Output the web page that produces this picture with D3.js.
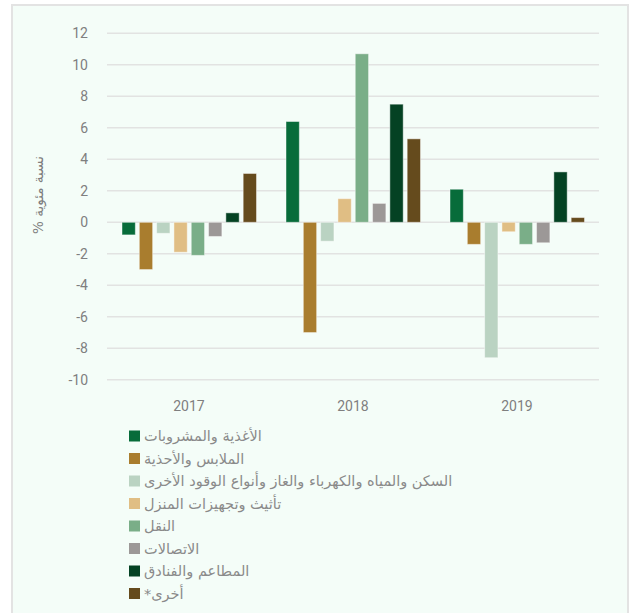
<!DOCTYPE html>
<html>
<head>
<meta charset="utf-8">
<script src="https://cdn.jsdelivr.net/npm/d3@7"></script>
<style>
  body { margin: 0; background: #fff; }
  svg { display: block; }
</style>
</head>
<body>
<svg id="chart" width="630" height="613"></svg>
<script>
const years = ["2017", "2018", "2019"];
const series = [
  "الأغذية والمشروبات",
  "الملابس والأحذية",
  "السكن والمياه والكهرباء والغاز وأنواع الوقود الأخرى",
  "تأثيث وتجهيزات المنزل",
  "النقل",
  "الاتصالات",
  "المطاعم والفنادق",
  "أخرى*"
];
const colors = ["#076c3a", "#a97d2e", "#bad3c2", "#e0be84", "#7aae88", "#9c9897", "#044223", "#654b1d"];
// values per series, one per year
const food = [-0.8, 6.4, 2.1];
const clothing = [-3.0, -7.0, -1.4];
const housing = [-0.7, -1.2, -8.6];
const furnishing = [-1.9, 1.5, -0.6];
const transport = [-2.1, 10.7, -1.4];
const communication = [-0.9, 1.2, -1.3];
const restaurants = [0.6, 7.5, 3.2];
const other = [3.1, 5.3, 0.3];
const yTicks = [12, 10, 8, 6, 4, 2, 0, -2, -4, -6, -8, -10];

const values = [food, clothing, housing, furnishing, transport, communication, restaurants, other];

const svg = d3.select("#chart");

// panel background
svg.append("rect")
  .attr("x", 12).attr("y", 5)
  .attr("width", 616).attr("height", 620)
  .attr("fill", "#f4fdf8")
  .attr("stroke", "#e3e3e3")
  .attr("stroke-width", 2);

const y = d3.scaleLinear().domain([-10, 12]).range([379.8, 33.3]);
const x0 = d3.scaleBand().domain(years).range([107, 599]);
const x1 = d3.scaleBand().domain(d3.range(series.length))
  .range([15, 149.5]).paddingInner(0.23);

// gridlines
svg.append("g")
  .selectAll("line")
  .data(yTicks)
  .join("line")
  .attr("x1", 107).attr("x2", 599)
  .attr("y1", d => y(d)).attr("y2", d => y(d))
  .attr("stroke", "#e2e3e2")
  .attr("stroke-width", 1.5);

// y tick labels
svg.append("g")
  .selectAll("text")
  .data(yTicks)
  .join("text")
  .attr("x", 88)
  .attr("y", d => y(d))
  .attr("dy", "0.35em")
  .attr("text-anchor", "end")
  .attr("font-family", "Roboto, sans-serif")
  .attr("font-size", 14)
  .attr("fill", "#7f7f7f")
  .text(d => d);

// x labels
svg.append("g")
  .selectAll("text")
  .data(years)
  .join("text")
  .attr("x", d => x0(d) + x0.bandwidth() / 2)
  .attr("y", 406)
  .attr("dy", "0.35em")
  .attr("text-anchor", "middle")
  .attr("font-family", "Roboto, sans-serif")
  .attr("font-size", 14)
  .attr("fill", "#7f7f7f")
  .text(d => d);

// y axis title
svg.append("text")
  .attr("transform", "translate(38,195) rotate(-90)")
  .attr("direction", "rtl")
  .attr("text-anchor", "middle")
  .attr("dy", "0.35em")
  .attr("font-family", "DejaVu Sans, sans-serif")
  .attr("font-size", 13.5)
  .attr("fill", "#7f7f7f")
  .text("نسبة مئوية %");

// bars
const groups = svg.append("g")
  .selectAll("g")
  .data(years)
  .join("g")
  .attr("transform", d => `translate(${x0(d)},0)`);

groups.selectAll("rect")
  .data((d, yi) => values.map((v, si) => ({ si, v: v[yi] })))
  .join("rect")
  .attr("x", d => x1(d.si))
  .attr("width", x1.bandwidth())
  .attr("y", d => y(Math.max(0, d.v)))
  .attr("height", d => Math.abs(y(d.v) - y(0)))
  .attr("fill", d => colors[d.si])
  .attr("stroke", "#ffffff")
  .attr("stroke-opacity", 0.45)
  .attr("stroke-width", 1);

// legend
const legend = svg.append("g")
  .selectAll("g")
  .data(series)
  .join("g")
  .attr("transform", (d, i) => `translate(129,${436 + i * 22.5})`);

legend.append("rect")
  .attr("x", 0).attr("y", -5.5)
  .attr("width", 11).attr("height", 11)
  .attr("fill", (d, i) => colors[i]);

legend.append("text")
  .attr("x", 15)
  .attr("dy", "0.35em")
  .attr("direction", "rtl")
  .attr("text-anchor", "end")
  .attr("font-family", "DejaVu Sans, sans-serif")
  .attr("font-size", 14.5)
  .attr("fill", "#8a8a8a")
  .text(d => d);
</script>
</body>
</html>
